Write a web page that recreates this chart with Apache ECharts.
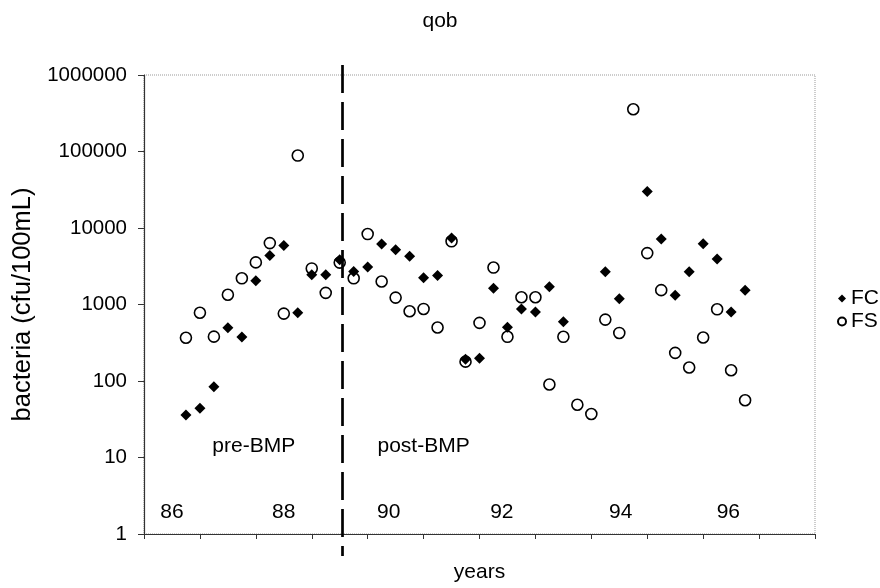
<!DOCTYPE html>
<html>
<head>
<meta charset="utf-8">
<title>qob</title>
<script src="https://cdn.jsdelivr.net/npm/echarts@6/dist/echarts.min.js"></script>
<style>
    html, body { margin: 0; padding: 0; background: #fff; }
    #main { width: 880px; height: 588px; }
</style>
</head>
<body>
<div id="main"></div>
<script>
// sampling quarter, counted from the first axis tick
const quarters = [3, 4, 5, 6, 7, 8, 9, 10, 11, 12, 13, 14, 15, 16, 17, 18, 19, 20, 21, 22,
    23, 24, 25, 26, 27, 28, 29, 30, 31, 32, 33, 34, 35, 36, 37, 38, 39, 40, 41, 42, 43]
const fc = [36, 44, 84, 497, 377, 2040, 4370, 5900, 780, 2450, 2450, 3860, 2700, 3100, 6200, 5210, 4270, 2230, 2400, 7400,
    192, 198, 1630, 505, 876, 800, 1700, 595, null, null, 2680, 1186, null, 30000, 7190, 1320, 2680, 6240, 3945, 800, 1540]
const fs = [368, 780, 380, 1340, 2200, 3550, 6350, 760, 88500, 2960, 1420, 3530, 2200, 8330, 2000, 1230, 815, 875, 500, 6700,
    179, 575, 3040, 378, 1245, 1245, 90, 378, 49, 37, 635, 425, 357000, 4700, 1540, 233, 150, 370, 865, 138, 56]
const yearLabels = ['86', '88', '90', '92', '94', '96']
const bmpQuarter = 14.2

const font = 'Liberation Sans, Arial, sans-serif'

const pairs = function (ys) {
    const out = []
    for (let i = 0; i < quarters.length; i++) {
        if (ys[i] != null) {
            out.push([quarters[i], ys[i]])
        }
    }
    return out
}

// text placed inside the plot, in data units
const yearSpots = [2, 10, 17.5, 25.6, 34.1, 41.8]
const notes = yearLabels.map(function (t, i) {
    return { name: t, value: [yearSpots[i], 1.95] }
})
notes.push({ name: 'pre-BMP', value: [7.85, 14] })
notes.push({ name: 'post-BMP', value: [20.0, 14] })

const myChart = echarts.init(document.getElementById('main'))

const option = {
    backgroundColor: '#fff',
    animation: false,
    textStyle: { fontFamily: font, color: '#000' },
    title: {
        text: 'qob',
        left: 'center',
        top: 6,
        textStyle: { fontFamily: font, fontSize: 21, fontWeight: 'normal', color: '#000' }
    },
    legend: {
        data: ['FC', 'FS'],
        orient: 'vertical',
        left: 832,
        top: 283,
        itemWidth: 8,
        itemHeight: 8,
        itemGap: 2,
        textStyle: { fontFamily: font, fontSize: 21, color: '#000' }
    },
    grid: {
        left: 144,
        right: 65,
        top: 75,
        bottom: 53,
        show: true,
        borderColor: '#999',
        borderWidth: 1,
        borderType: 'dotted'
    },
    xAxis: {
        type: 'value',
        min: 0,
        max: 48,
        interval: 4,
        name: 'years',
        nameLocation: 'middle',
        nameGap: 28,
        nameTextStyle: { fontFamily: font, fontSize: 21, color: '#000' },
        axisLine: { lineStyle: { color: '#333', width: 1.2 } },
        axisTick: { length: 5, lineStyle: { color: '#333' } },
        axisLabel: { show: false },
        splitLine: { show: false }
    },
    yAxis: {
        type: 'log',
        logBase: 10,
        min: 1,
        max: 1000000,
        splitNumber: 6,
        name: 'bacteria (cfu/100mL)',
        nameLocation: 'middle',
        nameGap: 94,
        nameTextStyle: { fontFamily: font, fontSize: 25.5, color: '#000' },
        axisLine: { show: true, lineStyle: { color: '#333', width: 1.2 } },
        axisTick: { show: true, length: 6, lineStyle: { color: '#333' } },
        axisLabel: {
            fontFamily: font,
            fontSize: 20.5,
            color: '#000',
            margin: 17,
            formatter: function (v) { return String(Math.round(v)) }
        },
        splitLine: { show: false },
        minorTick: { show: false }
    },
    series: [
        {
            name: 'FC',
            type: 'scatter',
            symbol: 'diamond',
            symbolSize: 11,
            itemStyle: { color: '#000', opacity: 1 },
            data: pairs(fc),
            z: 3
        },
        {
            name: 'FS',
            type: 'scatter',
            symbol: 'circle',
            symbolSize: 11,
            itemStyle: { color: '#fff', borderColor: '#000', borderWidth: 1.6, opacity: 1 },
            data: pairs(fs),
            z: 2
        },
        {
            name: 'notes',
            type: 'scatter',
            symbolSize: 0,
            silent: true,
            itemStyle: { opacity: 1 },
            data: notes,
            label: {
                show: true,
                position: 'inside',
                formatter: '{b}',
                fontFamily: font,
                fontSize: 21,
                color: '#000'
            }
        }
    ]
}

myChart.setOption(option)

// dashed BMP line runs past the plot frame, so draw it as a graphic
const bx = myChart.convertToPixel({ xAxisIndex: 0 }, bmpQuarter)
const yTop = myChart.convertToPixel({ yAxisIndex: 0 }, 1000000)
const yBottom = myChart.convertToPixel({ yAxisIndex: 0 }, 1)
myChart.setOption({
    graphic: [{
        type: 'line',
        shape: { x1: bx, y1: yTop - 10, x2: bx, y2: yBottom + 22 },
        style: { stroke: '#000', lineWidth: 2.7, lineDash: [28, 9] },
        z: 10
    }]
})
</script>
</body>
</html>
